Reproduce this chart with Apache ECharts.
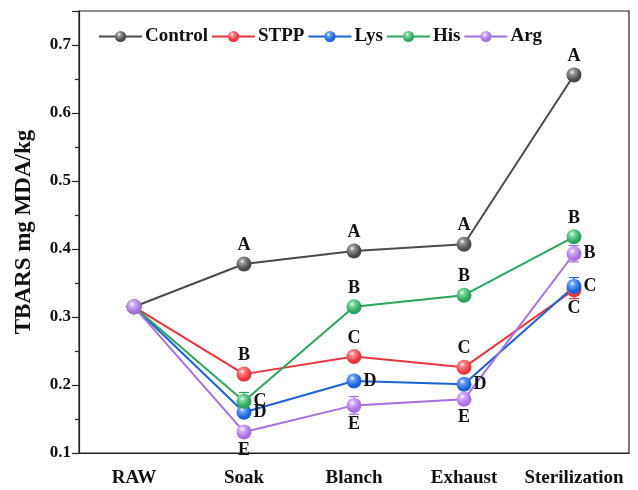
<!DOCTYPE html>
<html>
<head>
<meta charset="utf-8">
<script src="https://cdn.jsdelivr.net/npm/echarts@6/dist/echarts.min.js"></script>
<style>
  html, body { margin: 0; padding: 0; background: #fff; }
  #chart { width: 638px; height: 490px; }
</style>
</head>
<body>
<div id="chart"></div>
<script>
// Processing steps
const stages = ['RAW', 'Soak', 'Blanch', 'Exhaust', 'Sterilization'];
const yTicks = [0.1, 0.2, 0.3, 0.4, 0.5, 0.6, 0.7];

// TBARS means (mg MDA/kg)
const control = [0.315, 0.378, 0.397, 0.407, 0.656];
const stpp    = [0.315, 0.216, 0.242, 0.226, 0.340];
const lys     = [0.315, 0.160, 0.206, 0.201, 0.345];
const his     = [0.315, 0.176, 0.315, 0.332, 0.418];
const arg     = [0.315, 0.131, 0.170, 0.179, 0.393];

// Standard deviations
const controlSd = [0.003, 0.004, 0.004, 0.004, 0.005];
const stppSd    = [0.003, 0.004, 0.004, 0.004, 0.013];
const lysSd     = [0.003, 0.004, 0.004, 0.004, 0.013];
const hisSd     = [0.003, 0.013, 0.004, 0.006, 0.005];
const argSd     = [0.003, 0.005, 0.013, 0.005, 0.012];

// Significance letters (RAW has none)
const controlSig = ['', 'A', 'A', 'A', 'A'];
const stppSig    = ['', 'B', 'C', 'C', 'C'];
const lysSig     = ['', 'D', 'D', 'D', 'C'];
const hisSig     = ['', 'C', 'B', 'B', 'B'];
const argSig     = ['', 'E', 'E', 'E', 'B'];

// Where each letter sits relative to its marker
const letterPlace = {
  Control: ['top', 'top', 'top', 'top', 'top'],
  STPP:    ['top', 'top', 'top', 'top', 'bottom'],
  Lys:     ['top', 'right', 'right', 'right', 'right'],
  His:     ['top', 'right', 'top', 'top', 'top'],
  Arg:     ['top', 'bottom', 'bottom', 'bottom', 'right']
};

const groups = [
  { name: 'Control', values: control, sd: controlSd, sig: controlSig, color: '#4a4a4a', light: '#9a9a9a' },
  { name: 'STPP',    values: stpp,    sd: stppSd,    sig: stppSig,    color: '#e8353b', light: '#ff8a8d' },
  { name: 'Lys',     values: lys,     sd: lysSd,     sig: lysSig,     color: '#1a62d6', light: '#6fa5f5' },
  { name: 'His',     values: his,     sd: hisSd,     sig: hisSig,     color: '#2aa55c', light: '#7fd8a0' },
  { name: 'Arg',     values: arg,     sd: argSd,     sig: argSig,     color: '#a76fe0', light: '#d4b3f7' }
];

const serif = '"Liberation Serif", "Times New Roman", serif';

function sphere(g) {
  return {
    type: 'radial', x: 0.38, y: 0.32, r: 0.7,
    colorStops: [
      { offset: 0, color: '#ffffff' },
      { offset: 0.22, color: g.light },
      { offset: 0.75, color: g.color },
      { offset: 1, color: g.color }
    ]
  };
}

const series = [];
groups.forEach(function (g) {
  series.push({
    type: 'line',
    name: g.name,
    xAxisIndex: 0,
    yAxisIndex: 0,
    z: 4,
    symbol: 'circle',
    symbolSize: 15,
    color: g.color,
    lineStyle: { color: g.color, width: 2 },
    itemStyle: { color: sphere(g) },
    data: g.values.map(function (v, i) {
      return {
        value: v,
        label: {
          show: g.sig[i] !== '',
          formatter: g.sig[i],
          position: letterPlace[g.name][i],
          distance: 2
        }
      };
    }),
    label: {
      color: '#111',
      fontFamily: serif,
      fontWeight: 'bold',
      fontSize: 18
    }
  });
  // error bars drawn beneath the markers
  series.push({
    type: 'custom',
    name: g.name + ' SD',
    xAxisIndex: 0,
    yAxisIndex: 0,
    silent: true,
    z: 3,
    data: g.values.map(function (v, i) { return [i, v - g.sd[i], v + g.sd[i]]; }),
    renderItem: function (params, api) {
      const x = api.coord([api.value(0), api.value(1)])[0];
      const lo = api.coord([api.value(0), api.value(1)])[1];
      const hi = api.coord([api.value(0), api.value(2)])[1];
      const cap = 5;
      const st = { stroke: g.color, lineWidth: 1.2 };
      return {
        type: 'group',
        children: [
          { type: 'line', shape: { x1: x, y1: lo, x2: x, y2: hi }, style: st },
          { type: 'line', shape: { x1: x - cap, y1: lo, x2: x + cap, y2: lo }, style: st },
          { type: 'line', shape: { x1: x - cap, y1: hi, x2: x + cap, y2: hi }, style: st }
        ]
      };
    }
  });
});

const chart = echarts.init(document.getElementById('chart'), null, { renderer: 'canvas' });
chart.setOption({
  backgroundColor: '#fff',
  animation: false,
  grid: {
    left: 79, right: 9, top: 11, bottom: 37,
    show: true, borderColor: '#222', borderWidth: 1.2
  },
  legend: {
    top: 22, left: 93,
    itemWidth: 43, itemHeight: 14, itemGap: 3,
    data: groups.map(function (g) { return g.name; }),
    textStyle: { color: '#111', fontFamily: serif, fontWeight: 'bold', fontSize: 19, padding: [0, 0, 0, -2] }
  },
  xAxis: [
    {
      type: 'category',
      data: stages,
      boundaryGap: true,
      axisLine: { lineStyle: { color: '#222', width: 1.2 } },
      axisTick: { alignWithLabel: true, length: 7, inside: false, lineStyle: { color: '#222', width: 1.2 } },
      axisLabel: { interval: 0, color: '#111', fontFamily: serif, fontWeight: 'bold', fontSize: 19, margin: 16 },
      splitLine: { show: false }
    },
    {
      type: 'category',
      data: stages,
      position: 'bottom',
      boundaryGap: true,
      axisLine: { show: false },
      axisTick: { length: 4, lineStyle: { color: '#222', width: 1.2 } },
      axisLabel: { show: false },
      splitLine: { show: false }
    }
  ],
  yAxis: {
    type: 'value',
    min: 0.1, max: 0.75, interval: 0.1,
    axisLine: { show: true, lineStyle: { color: '#222', width: 1.2 } },
    axisTick: { show: true, length: 7, lineStyle: { color: '#222', width: 1.2 } },
    minorTick: { show: true, splitNumber: 2, length: 4, lineStyle: { color: '#222', width: 1.2 } },
    axisLabel: {
      color: '#111', fontFamily: serif, fontWeight: 'bold', fontSize: 17, margin: 8,
      formatter: function (v) {
        const hit = yTicks.find(function (t) { return Math.abs(t - v) < 1e-9; });
        return hit === undefined ? '' : hit.toFixed(1);
      }
    },
    splitLine: { show: false }
  },
  graphic: [{
    type: 'text',
    x: 24, y: 232,
    rotation: Math.PI / 2,
    style: {
      text: 'TBARS mg MDA/kg',
      fill: '#111',
      font: 'bold 23px "Liberation Serif", "Times New Roman", serif',
      textAlign: 'center',
      textVerticalAlign: 'middle'
    }
  }],
  series: series
});
</script>
</body>
</html>
